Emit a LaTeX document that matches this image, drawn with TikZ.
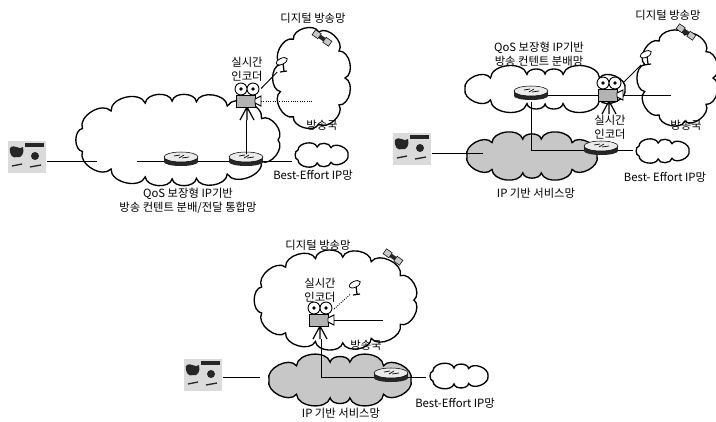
\documentclass[tikz,border=0pt]{standalone}
\usepackage{xcolor}
\usepackage{fontspec}
\setmainfont{Noto Sans CJK KR}
\usetikzlibrary{shapes.geometric}
\colorlet{strokeColor}{black}
\colorlet{textColor}{black}
\colorlet{shadeColor}{black!22}
\colorlet{darkColor}{black!85}

\tikzset{
  cloudline/.style={draw=strokeColor, line width=1pt},
  link/.style={draw=strokeColor, line width=0.7pt},
  tagtext/.style={text=textColor, font=\fontsize{8.5}{10.5}\selectfont, align=center, inner sep=0pt},
  hotspot/.style={inner sep=0pt, outer sep=0pt},
  router/.pic={
    \fill[darkColor] (-17,0) rectangle (17,5);
    \fill[darkColor] (0,5) ellipse [x radius=17, y radius=4];
    \filldraw[fill=black!8, draw=strokeColor, line width=0.4pt] (0,0) ellipse [x radius=17, y radius=5];
    \draw[line width=0.5pt] (-7,-1) -- (-1,-2) (1,1) -- (8,0) (-2,1) -- (3,-2);
    \node[hotspot, minimum width=25.5pt, minimum height=10pt] (-c) at (0,4) {};
  },
  camera/.pic={
    \draw[line width=0.9pt] (0,7) -- (-7,20) (0,7) -- (7,20) (0,7) -- (0,20);
    \filldraw[fill=white, draw=strokeColor, line width=0.7pt] (-6,-11) circle [radius=6] (6,-11) circle [radius=6];
    \fill (-6,-11) circle [radius=1.8] (6,-11) circle [radius=1.8];
    \filldraw[fill=black!30, draw=strokeColor, line width=0.7pt] (-11,-5) rectangle (8,7);
    \filldraw[fill=white, draw=strokeColor, line width=0.7pt] (8,-1) -- (14,-4) -- (14,6) -- (8,3) -- cycle;
    \node[hotspot, minimum width=19pt, minimum height=28pt] (-c) at (1.5,1.5) {};
  },
  dish/.pic={
    \draw[line width=0.9pt] (0,-1) -- (1,7) (-3,8) -- (4,7);
    \filldraw[fill=white, draw=strokeColor, line width=0.6pt, rotate=25] (0,-3) ellipse [x radius=6, y radius=3];
    \node[hotspot, minimum size=9pt] (-c) at (0,2) {};
  },
  satellite/.pic={
    \begin{scope}[rotate=-35]
      \filldraw[fill=shadeColor, draw=strokeColor, line width=0.4pt] (-10,-3) rectangle (-3,3);
      \filldraw[fill=shadeColor, draw=strokeColor, line width=0.4pt] (3,-3) rectangle (10,3);
      \fill[darkColor] (-3,-2) rectangle (3,2);
    \end{scope}
  },
  pcbox/.pic={
    \fill[black!14] (-19,-16) rectangle (19,16);
    \fill[darkColor] (-17,-9) .. controls (-12,-14) and (-8,-6) .. (-4,-10)
      .. controls (-2,-4) and (-6,2) .. (-10,0) .. controls (-14,2) and (-18,-2) .. cycle;
    \fill[darkColor] (-2,-14) rectangle (17,-10);
    \fill[darkColor] (8,-1) circle [radius=4];
    \draw[darkColor, line width=1pt] (-15,9) -- (-5,7) (3,10) -- (14,8);
    \node[hotspot, minimum width=30pt, minimum height=25pt] (-c) {};
  },
}

% cloud: [style]{name}{cx}{cy}{rx}{ry}{puffs}, sizes in pixels
\newcommand\netcloud[7][]{%
  \node[hotspot, ellipse, minimum width={1.5*#5 pt}, minimum height={1.5*#6 pt}] (#2) at (#3,#4) {};
  \pgfmathsetmacro\cloudstep{360/#7}
  \pgfmathsetmacro\cloudwarp{57.3*(#5-#6)/(2*(#5+#6))}
  \path[cloudline, #1] (#3+#5,#4)
    foreach \k in {1,...,#7} {
      to[bend left=80] ({#3+#5*cos(\k*\cloudstep+\cloudwarp*sin(2*\k*\cloudstep))},
                        {#4+#6*sin(\k*\cloudstep+\cloudwarp*sin(2*\k*\cloudstep))})
    } -- cycle;
}

\begin{document}
\begin{tikzpicture}[x=0.75pt, y=-0.75pt]
  \useasboundingbox (0,0) rectangle (716,421);

  % combined distribution/transport network
  \begin{scope}
    \netcloud{dtv1}{312}{78}{33}{47}{9}
    \netcloud{qos1}{178}{140}{100}{39}{15}
    \netcloud{be1}{320}{155}{28}{8}{7}
    \pic (pc1) at (27,157) {pcbox};
    \pic (r1) at (181,157) {router};
    \pic (r2) at (246,157) {router};
    \pic (dish1) at (283,64) {dish};
    \pic (sat1) at (322,38) {satellite};
    \coordinate (edge1) at (97,161);
    \coordinate (edge2) at (137,161);
    \draw[link] (pc1-c.east |- edge1) -- (edge1);
    \draw[link] (edge2) -- (r1-c.west);
    \draw[link] (r1-c) -- (r2-c);
    \draw[link] (r2-c.east) -- (r2-c.east -| be1.west);
    \pic (cam1) at (247,100) {camera};
    \coordinate (bc1) at (312,101);
    \draw[link] (r2-c.north) -- (r2-c.north |- cam1-c.south);
    \draw[link, densely dotted] (cam1-c.east |- bc1) -- (bc1);
    \draw[link] (cam1-c) -- (dish1-c);
    \node[tagtext] at (313,18) {디지털 방송망};
    \node[tagtext] at (247,69) {실시간\\인코더};
    \node[tagtext] at (322,125) {방송국};
    \node[tagtext] at (313,175) {Best-Effort IP망};
    \node[tagtext] at (188,201) {QoS 보장형 IP기반\\방송 컨텐트 분배/전달 통합망};
  \end{scope}

  % distribution network over the IP service network
  \begin{scope}
    \netcloud{dtv2}{678}{78}{35}{44}{9}
    \netcloud{qos2}{545}{89}{80}{15}{12}
    \netcloud[fill=shadeColor]{ip2}{532}{156}{65}{17}{10}
    \netcloud{be2}{661}{151}{28}{8}{7}
    \pic (pc2) at (412,149) {pcbox};
    \pic (r3) at (531,91) {router};
    \pic (r4) at (601,146) {router};
    \pic (dish2) at (647,57) {dish};
    \pic (sat2) at (686,32) {satellite};
    \coordinate (edge3) at (483,153);
    \coordinate (bc2) at (671,95);
    \draw[link] (pc2-c.east |- edge3) -- (edge3);
    \draw[link] (r3-c.south) -- (r3-c.south |- r4-c.west) -- (r4-c.west);
    \draw[link] (r4-c.east) -- (r4-c.east -| be2.west);
    \draw[link] (r3-c.east) -- (bc2);
    \pic (cam2) at (609,94) {camera};
    \draw[link] (cam2-c) -- (dish2-c);
    \node[tagtext] at (668,15) {디지털 방송망};
    \node[tagtext] at (539,54) {QoS 보장형 IP기반\\방송 컨텐트 분배망};
    \node[tagtext] at (610,127) {실시간\\인코더};
    \node[tagtext] at (686,125) {방송국};
    \node[tagtext] at (665,177) {Best- Effort IP망};
    \node[tagtext] at (536,193) {IP 기반 서비스망};
  \end{scope}

  % encoder inside the broadcast network
  \begin{scope}
    \netcloud{dtv3}{336}{300}{78}{43}{13}
    \netcloud[fill=shadeColor]{ip3}{340}{380}{71}{18}{10}
    \netcloud{be3}{457}{376}{31}{8}{7}
    \pic (pc3) at (203,375) {pcbox};
    \pic (r5) at (391,373) {router};
    \pic (dish3) at (356,287) {dish};
    \pic (sat3) at (393,257) {satellite};
    \coordinate (edge4) at (260,377);
    \draw[link] (pc3-c.east |- edge4) -- (edge4);
    \draw[link] (r5-c.east) -- (r5-c.east -| be3.west);
    \pic (cam3) at (320,319) {camera};
    \coordinate (bc3) at (383,320);
    \draw[link] (cam3-c.east |- bc3) -- (bc3);
    \draw[link] (cam3-c.south) -- (cam3-c.south |- r5-c.west) -- (r5-c.west);
    \draw[link, densely dotted] (cam3-c) -- (dish3-c);
    \node[tagtext] at (318,245) {디지털 방송망};
    \node[tagtext] at (320,290) {실시간\\인코더};
    \node[tagtext] at (366,345) {방송국};
    \node[tagtext] at (455,403) {Best-Effort IP망};
    \node[tagtext] at (341,413) {IP 기반 서비스망};
  \end{scope}
\end{tikzpicture}
\end{document}
